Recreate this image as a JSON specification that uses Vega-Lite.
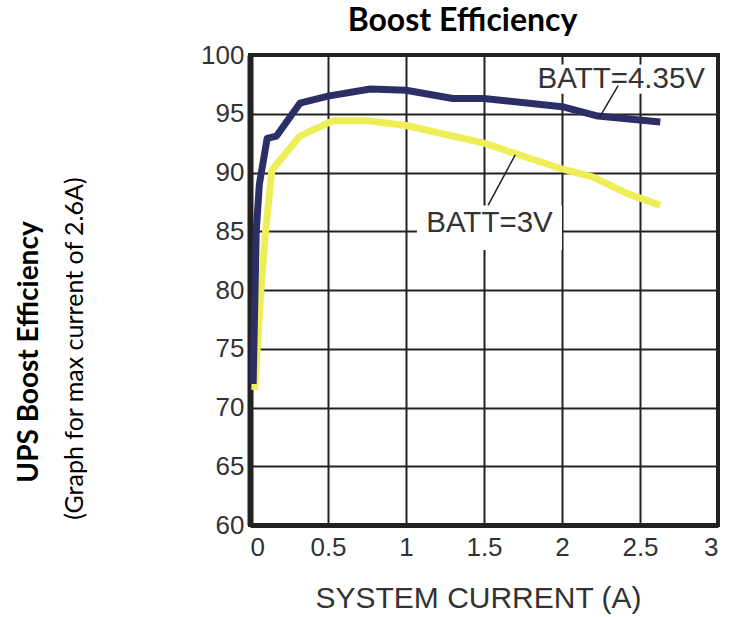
{
  "$schema": "https://vega.github.io/schema/vega-lite/v6.json",
  "width": 468,
  "height": 470,
  "autosize": {"type": "none"},
  "padding": {"left": 250, "top": 55, "right": 14, "bottom": 92},
  "background": "white",
  "config": {
    "view": {"stroke": "#222", "strokeWidth": 4},
    "axis": {"labelFont": "Liberation Sans", "titleFont": "Liberation Sans", "labelColor": "#333", "titleColor": "#333"}
  },
  "title": {
    "text": "UPS Boost Efficiency",
    "orient": "left",
    "anchor": "middle",
    "font": "Lato",
    "fontSize": 28,
    "fontWeight": "bold",
    "color": "black",
    "offset": 18,
    "dx": -62
  },
  "datasets": {
    "curves": [
      {"series": "BATT=3V", "current": 0.03, "eff": 71.5},
      {"series": "BATT=3V", "current": 0.07, "eff": 80.0},
      {"series": "BATT=3V", "current": 0.1, "eff": 85.0},
      {"series": "BATT=3V", "current": 0.14, "eff": 90.2},
      {"series": "BATT=3V", "current": 0.32, "eff": 93.1},
      {"series": "BATT=3V", "current": 0.53, "eff": 94.4},
      {"series": "BATT=3V", "current": 0.76, "eff": 94.4},
      {"series": "BATT=3V", "current": 1.0, "eff": 94.0},
      {"series": "BATT=3V", "current": 1.5, "eff": 92.5},
      {"series": "BATT=3V", "current": 2.0, "eff": 90.3},
      {"series": "BATT=3V", "current": 2.2, "eff": 89.6},
      {"series": "BATT=3V", "current": 2.42, "eff": 88.2},
      {"series": "BATT=3V", "current": 2.63, "eff": 87.2},
      {"series": "BATT=4.35V", "current": 0.02, "eff": 72.0},
      {"series": "BATT=4.35V", "current": 0.04, "eff": 85.0},
      {"series": "BATT=4.35V", "current": 0.06, "eff": 89.0},
      {"series": "BATT=4.35V", "current": 0.11, "eff": 92.9},
      {"series": "BATT=4.35V", "current": 0.17, "eff": 93.1},
      {"series": "BATT=4.35V", "current": 0.32, "eff": 95.9},
      {"series": "BATT=4.35V", "current": 0.5, "eff": 96.5},
      {"series": "BATT=4.35V", "current": 0.77, "eff": 97.1},
      {"series": "BATT=4.35V", "current": 1.0, "eff": 97.0},
      {"series": "BATT=4.35V", "current": 1.3, "eff": 96.3},
      {"series": "BATT=4.35V", "current": 1.5, "eff": 96.3},
      {"series": "BATT=4.35V", "current": 2.0, "eff": 95.6},
      {"series": "BATT=4.35V", "current": 2.23, "eff": 94.8},
      {"series": "BATT=4.35V", "current": 2.63, "eff": 94.3}
    ],
    "labels": [
      {"label": "BATT=4.35V", "x": 2.38, "y": 98.0, "bx": 1.85, "bx2": 2.93, "by": 96.7, "by2": 99.2, "lx": 2.36, "ly": 97.4, "lx2": 2.24, "ly2": 94.7},
      {"label": "BATT=3V", "x": 1.535, "y": 85.7, "bx": 1.07, "bx2": 2.0, "by": 83.4, "by2": 87.2, "lx": 1.7, "ly": 91.5, "lx2": 1.526, "ly2": 87.2}
    ]
  },
  "layer": [
    {
      "data": {"name": "labels"},
      "mark": {"type": "rect", "fill": "white"},
      "encoding": {
        "x": {"field": "bx", "type": "quantitative", "scale": {"domain": [0, 3], "nice": false, "zero": false},
          "axis": {"orient": "bottom", "values": [0, 0.5, 1, 1.5, 2, 2.5, 3], "format": "~g", "grid": true, "gridColor": "#222", "gridWidth": 2, "gridOpacity": 1, "ticks": false, "domain": true, "domainColor": "#222", "domainWidth": 5, "labelFontSize": 26, "labelPadding": 9, "title": "SYSTEM CURRENT (A)", "titleFontSize": 30, "titleFontWeight": "normal", "titleBaseline": "alphabetic", "titleY": 82, "titleX": 228, "zindex": 0}},
        "x2": {"field": "bx2"},
        "y": {"field": "by", "type": "quantitative", "scale": {"domain": [60, 100], "nice": false, "zero": false},
          "axis": {"values": [60, 65, 70, 75, 80, 85, 90, 95, 100], "grid": true, "gridColor": "#222", "gridWidth": 2, "gridOpacity": 1, "ticks": false, "domain": true, "domainColor": "#222", "domainWidth": 6, "labelFontSize": 26, "labelPadding": 6, "title": "(Graph for max current of 2.6A)", "titleFont": "Lato", "titleFontSize": 25, "titleFontWeight": "normal", "titleColor": "black", "titleX": -163, "titleY": 293, "titleBaseline": "bottom", "zindex": 0}},
        "y2": {"field": "by2"}
      }
    },
    {
      "data": {"name": "curves"},
      "transform": [{"filter": "datum.series === 'BATT=3V'"}],
      "mark": {"type": "line", "color": "#eeee58", "strokeWidth": 7, "strokeJoin": "round", "strokeCap": "butt"},
      "encoding": {
        "x": {"field": "current", "type": "quantitative", "axis": null},
        "y": {"field": "eff", "type": "quantitative"}
      }
    },
    {
      "data": {"name": "curves"},
      "transform": [{"filter": "datum.series === 'BATT=4.35V'"}],
      "mark": {"type": "line", "color": "#2c2f66", "strokeWidth": 7, "strokeJoin": "round", "strokeCap": "butt"},
      "encoding": {
        "x": {"field": "current", "type": "quantitative", "axis": null},
        "y": {"field": "eff", "type": "quantitative"}
      }
    },
    {
      "data": {"name": "labels"},
      "mark": {"type": "rule", "color": "#222", "strokeWidth": 1.5},
      "encoding": {
        "x": {"field": "lx", "type": "quantitative",
          "axis": {"orient": "top", "labels": false, "ticks": false, "domain": false, "grid": false, "title": "Boost Efficiency", "titleFont": "Lato", "titleFontSize": 32, "titleFontWeight": "bold", "titleColor": "black", "titleBaseline": "alphabetic", "titleX": 212, "titleY": -25}},
        "x2": {"field": "lx2"},
        "y": {"field": "ly", "type": "quantitative"},
        "y2": {"field": "ly2"}
      }
    },
    {
      "data": {"name": "labels"},
      "mark": {"type": "text", "font": "Liberation Sans", "fontSize": 29.5, "color": "#333", "align": "center", "baseline": "middle"},
      "encoding": {
        "x": {"field": "x", "type": "quantitative", "axis": null},
        "y": {"field": "y", "type": "quantitative"},
        "text": {"field": "label"}
      }
    }
  ],
  "resolve": {"axis": {"x": "independent"}}
}
